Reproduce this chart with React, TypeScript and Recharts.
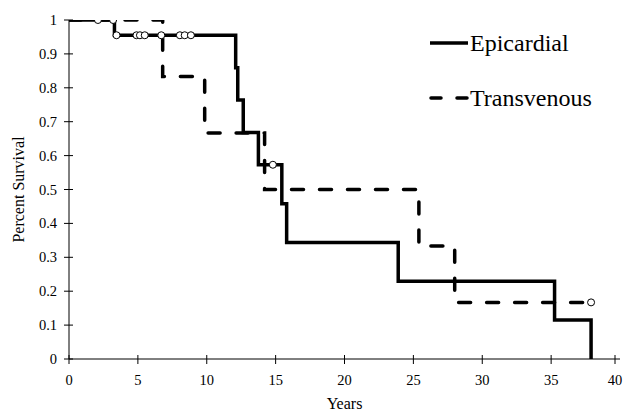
import React from 'react';
import { ComposedChart, Line, Scatter, XAxis, YAxis, Legend } from 'recharts';

const seriesNames = ['Epicardial', 'Transvenous'];
const epiTimes = [0, 3.3, 12.1, 12.25, 12.65, 13.75, 15.45, 15.8, 23.9, 35.25, 37.9];
const epiSurvival = [1, 0.955, 0.859, 0.764, 0.668, 0.573, 0.458, 0.344, 0.229, 0.115, 0];
const tvTimes = [0, 6.8, 9.85, 14.2, 25.4, 28.0, 37.9];
const tvSurvival = [1, 0.833, 0.667, 0.5, 0.333, 0.167, 0.167];
const epiCensorTimes = [2.1, 3.2, 3.45, 4.9, 5.15, 5.5, 6.7, 8.05, 8.4, 8.85, 14.8];
const epiCensorSurvival = [1, 1, 0.955, 0.955, 0.955, 0.955, 0.955, 0.955, 0.955, 0.955, 0.573];
const tvCensorTimes = [37.9];
const tvCensorSurvival = [0.167];
const xTicks = [0, 5, 10, 15, 20, 25, 30, 35, 40];
const yTicks = [0, 0.1, 0.2, 0.3, 0.4, 0.5, 0.6, 0.7, 0.8, 0.9, 1];
const xTitle = 'Years';
const yTitle = 'Percent Survival';

const toPoints = (ts: number[], ss: number[]) => ts.map((t, i) => ({ t, s: ss[i] }));
const epiData = toPoints(epiTimes, epiSurvival);
const tvData = toPoints(tvTimes, tvSurvival);
const censorData = [
  ...toPoints(epiCensorTimes, epiCensorSurvival),
  ...toPoints(tvCensorTimes, tvCensorSurvival),
];

const FONT = '"Liberation Serif", "Times New Roman", serif';

const YTick = (props: any) => {
  const { x, y, payload } = props;
  return (
    <g>
      <line x1={x - 5} x2={x + 4} y1={y} y2={y} stroke="#000" strokeWidth={1} />
      <text x={x - 12} y={y + 5} textAnchor="end" fontSize={14.5} fontFamily={FONT} fill="#000">
        {String(payload.value)}
      </text>
    </g>
  );
};

const XTick = (props: any) => {
  const { x, y, payload } = props;
  return (
    <g>
      <line x1={x} x2={x} y1={y - 4} y2={y + 5} stroke="#000" strokeWidth={1} />
      <text x={x} y={y + 26} textAnchor="middle" fontSize={14.5} fontFamily={FONT} fill="#000">
        {String(payload.value)}
      </text>
    </g>
  );
};

const YTitle = (props: any) => {
  const vb = props.viewBox || {};
  const cx = (vb.x || 0) + 18;
  const cy = (vb.y || 0) + (vb.height || 0) / 2;
  return (
    <text
      x={cx}
      y={cy}
      transform={`rotate(-90 ${cx} ${cy})`}
      textAnchor="middle"
      dominantBaseline="central"
      fontSize={16}
      fontFamily={FONT}
      fill="#000"
    >
      {yTitle}
    </text>
  );
};

const XTitle = (props: any) => {
  const vb = props.viewBox || {};
  const cx = (vb.x || 0) + (vb.width || 0) / 2;
  const cy = (vb.y || 0) + 50;
  return (
    <text x={cx} y={cy} textAnchor="middle" fontSize={16} fontFamily={FONT} fill="#000">
      {xTitle}
    </text>
  );
};

const Censor = (props: any) => {
  const { cx, cy } = props;
  return <circle cx={cx} cy={cy} r={3.5} fill="#fff" stroke="#000" strokeWidth={1} />;
};

const LegendContent = () => (
  <div style={{ fontFamily: FONT, fontSize: 24, color: '#000', lineHeight: 1 }}>
    <div style={{ display: 'flex', alignItems: 'center', height: 30 }}>
      <svg width={42} height={10}>
        <line x1={2} x2={40} y1={5} y2={5} stroke="#000" strokeWidth={3.5} />
      </svg>
      <span>{seriesNames[0]}</span>
    </div>
    <div style={{ height: 25 }} />
    <div style={{ display: 'flex', alignItems: 'center', height: 30 }}>
      <svg width={42} height={10}>
        <line x1={3} x2={40} y1={5} y2={5} stroke="#000" strokeWidth={3.5} strokeDasharray="10 16" strokeLinecap="round" />
      </svg>
      <span>{seriesNames[1]}</span>
    </div>
  </div>
);

export default function App() {
  return (
    <div style={{ position: 'absolute', left: 0, top: 0 }}>
      <ComposedChart
        width={623}
        height={413}
        margin={{ top: 20, right: 3, bottom: 0, left: 0 }}
      >
        <XAxis
          dataKey="t"
          type="number"
          domain={[0, 40]}
          ticks={xTicks}
          allowDataOverflow
          stroke="#000"
          tickSize={0}
          tickMargin={0}
          tick={<XTick />}
          height={54}
          label={<XTitle />}
        />
        <YAxis
          dataKey="s"
          type="number"
          domain={[0, 1]}
          ticks={yTicks}
          allowDataOverflow
          stroke="#000"
          tickSize={0}
          tickMargin={0}
          tick={<YTick />}
          width={69}
          label={<YTitle />}
        />
        <Legend
          content={<LegendContent />}
          wrapperStyle={{ position: 'absolute', left: 428, top: 28, width: 190, height: 0, overflow: 'visible' }}
        />
        <Line
          name={seriesNames[1]}
          data={tvData}
          dataKey="s"
          type="stepAfter"
          stroke="#000"
          strokeWidth={3.5}
          strokeDasharray="12 16"
          strokeLinecap="round"
          dot={false}
          activeDot={false}
          isAnimationActive={false}
        />
        <Line
          name={seriesNames[0]}
          data={epiData}
          dataKey="s"
          type="stepAfter"
          stroke="#000"
          strokeWidth={3.5}
          dot={false}
          activeDot={false}
          isAnimationActive={false}
        />
        <Scatter
          data={censorData}
          dataKey="s"
          shape={<Censor />}
          isAnimationActive={false}
          legendType="none"
        />
      </ComposedChart>
    </div>
  );
}
